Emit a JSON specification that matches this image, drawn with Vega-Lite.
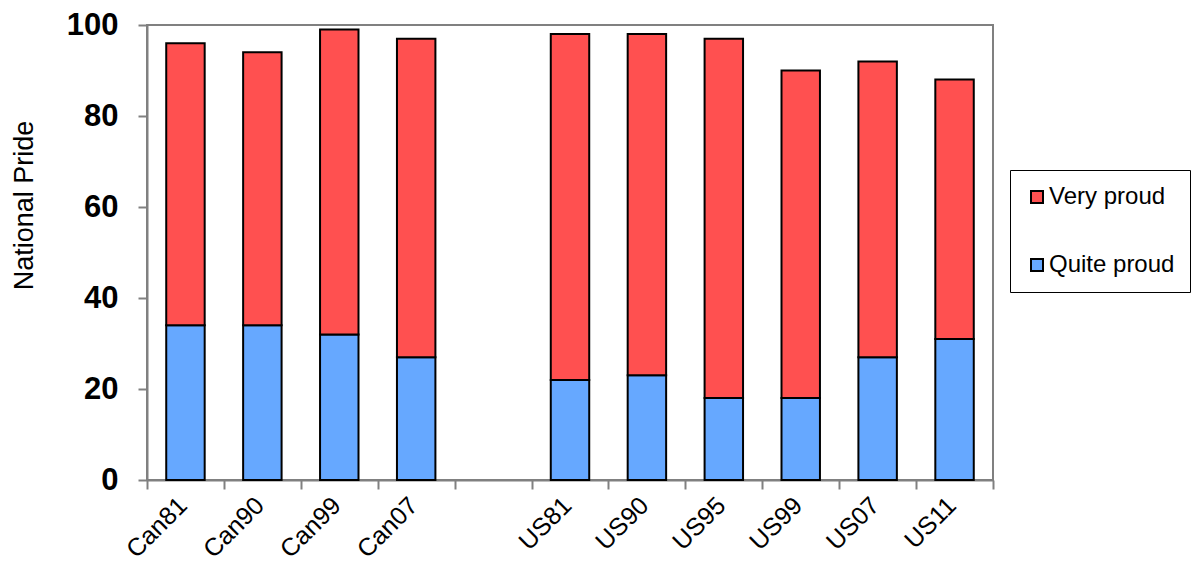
{
  "$schema": "https://vega.github.io/schema/vega-lite/v6.json",
  "width": 846,
  "height": 455,
  "autosize": {"type": "none"},
  "padding": {"left": 147, "top": 25, "right": 199, "bottom": 85},
  "config": {
    "font": "Liberation Sans",
    "view": {"stroke": "#808080", "strokeWidth": 2},
    "axis": {"grid": false, "domainColor": "#808080", "domainWidth": 2, "tickColor": "#808080", "tickWidth": 2, "tickSize": 9, "labelColor": "#000", "titleColor": "#000"}
  },
  "data": {
    "values": [
      {"survey": "Can81", "type": "Quite proud", "value": 34},
      {"survey": "Can81", "type": "Very proud", "value": 62},
      {"survey": "Can90", "type": "Quite proud", "value": 34},
      {"survey": "Can90", "type": "Very proud", "value": 60},
      {"survey": "Can99", "type": "Quite proud", "value": 32},
      {"survey": "Can99", "type": "Very proud", "value": 67},
      {"survey": "Can07", "type": "Quite proud", "value": 27},
      {"survey": "Can07", "type": "Very proud", "value": 70},
      {"survey": "US81", "type": "Quite proud", "value": 22},
      {"survey": "US81", "type": "Very proud", "value": 76},
      {"survey": "US90", "type": "Quite proud", "value": 23},
      {"survey": "US90", "type": "Very proud", "value": 75},
      {"survey": "US95", "type": "Quite proud", "value": 18},
      {"survey": "US95", "type": "Very proud", "value": 79},
      {"survey": "US99", "type": "Quite proud", "value": 18},
      {"survey": "US99", "type": "Very proud", "value": 72},
      {"survey": "US07", "type": "Quite proud", "value": 27},
      {"survey": "US07", "type": "Very proud", "value": 65},
      {"survey": "US11", "type": "Quite proud", "value": 31},
      {"survey": "US11", "type": "Very proud", "value": 57}
    ]
  },
  "mark": {"type": "bar", "stroke": "black", "strokeWidth": 2, "width": {"band": 0.5}},
  "encoding": {
    "x": {
      "field": "survey",
      "type": "nominal",
      "scale": {
        "domain": ["Can81", "Can90", "Can99", "Can07", " ", "US81", "US90", "US95", "US99", "US07", "US11"],
        "paddingInner": 0,
        "paddingOuter": 0
      },
      "axis": {
        "title": null,
        "tickBand": "extent",
        "labelAngle": -45,
        "labelFontSize": 25,
        "labelBaseline": "middle",
        "labelOffset": -3,
        "labelPadding": 12
      }
    },
    "y": {
      "field": "value",
      "type": "quantitative",
      "stack": "zero",
      "scale": {"domain": [0, 100]},
      "axis": {
        "title": "National Pride",
        "values": [0, 20, 40, 60, 80, 100],
        "labelFontSize": 31,
        "labelFontWeight": "bold",
        "labelPadding": 20,
        "titleFontSize": 27,
        "titleFontWeight": "normal",
        "titlePadding": 28,
        "titleY": 180
      }
    },
    "order": {"field": "type", "sort": "ascending"},
    "color": {
      "field": "type",
      "type": "nominal",
      "scale": {"domain": ["Very proud", "Quite proud"], "range": ["#FF5050", "#66A8FF"]},
      "legend": {
        "title": null,
        "orient": "none",
        "legendX": 863,
        "legendY": 145,
        "strokeColor": "#000",
        "padding": 15,
        "symbolType": "square",
        "symbolSize": 144,
        "symbolStrokeColor": "black",
        "symbolStrokeWidth": 2,
        "labelFontSize": 24,
        "labelOffset": 0,
        "rowPadding": 44
      }
    }
  }
}
